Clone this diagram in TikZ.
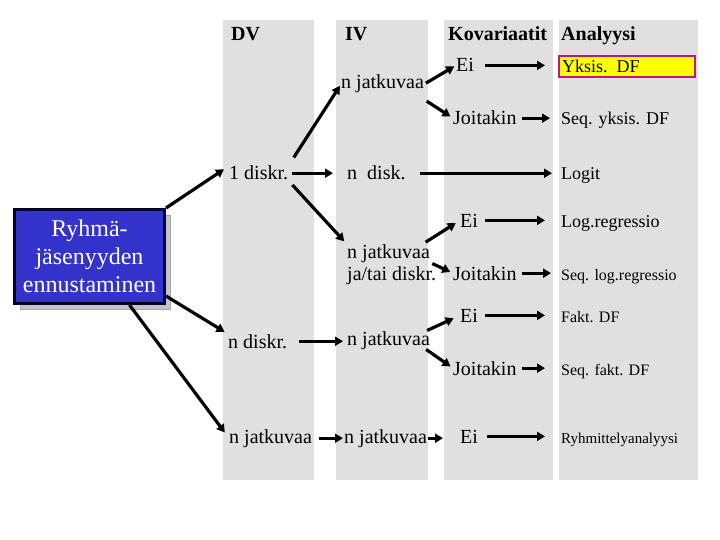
\documentclass[tikz,border=0pt]{standalone}
\usepackage{fontspec}
\setmainfont{Liberation Serif}
\usepackage{tikz}
\usepackage{xcolor}
\usetikzlibrary{arrows.meta,shadows}

\definecolor{colgray}{HTML}{E0E0E0}
\definecolor{grpblue}{HTML}{3333CC}
\definecolor{grpedge}{HTML}{000033}
\definecolor{grpshadow}{HTML}{C4C4C4}
\definecolor{hiyellow}{HTML}{FFFF00}
\definecolor{himagenta}{HTML}{C0187A}

\begin{document}
\begin{tikzpicture}[
    x=1pt, y=-1pt,
    txt/.style={inner sep=0pt, anchor=base west,
                font=\fontsize{20}{22}\selectfont},
    head/.style={txt, font=\fontsize{20}{22}\selectfont\bfseries},
    res/.style={txt, font=\fontsize{18}{20}\selectfont},
    ressmall/.style={txt, font=\fontsize{16}{18}\selectfont},
    column/.style={fill=colgray},
    group/.style={rectangle, draw=grpedge, line width=3pt,
                  fill=grpblue, text=white, align=center,
                  minimum width=150pt, minimum height=94pt,
                  font=\fontsize{24}{28}\selectfont,
                  drop shadow={shadow xshift=6pt, shadow yshift=-6pt,
                               fill=grpshadow, draw=gray!70,
                               line width=1pt, opacity=1}},
    link/.style={draw, line width=3.2pt,
                 -{Triangle[length=8pt, width=9pt]}},
]

\fill[white] (0,0) rectangle (720,540);
\useasboundingbox (0,0) rectangle (720,540);

\fill[column] (223,20) rectangle (314,480);
\fill[column] (336,20) rectangle (428,480);
\fill[column] (444,20) rectangle (553,480);
\fill[column] (559,20) rectangle (698,480);

\node [head] (hdv) at (231,41) {DV};
\node [head] (hiv) at (345,41) {IV};
\node [head] (hkov) at (448,41) {Kovariaatit};
\node [head] (hana) at (561,41) {Analyysi};

\node [group] (grp) at (89.5,256.5) {Ryhmä-\\jäsenyyden\\ennustaminen};

\node [txt] (dv1) at (229,180) {1 diskr.};
\node [txt] (dvn) at (228,348) {n diskr.};
\node [txt] (dvc) at (229,443) {n jatkuvaa};

\node [txt] (iv1) at (341,89) {n jatkuvaa};
\node [txt] (iv2) at (347,180) {n\ \ disk.};
\node [txt, anchor=north west, align=left] (iv3) at (347,244.3)
  {n jatkuvaa\\ja/tai diskr.};
\node [txt] (iv4) at (347,345) {n jatkuvaa};
\node [txt] (iv5) at (344,443) {n jatkuvaa};

\node [txt] (k1) at (456,72) {Ei};
\node [txt] (k2) at (453,125) {Joitakin};
\node [txt] (k3) at (460,227) {Ei};
\node [txt] (k4) at (453,280) {Joitakin};
\node [txt] (k5) at (460,322) {Ei};
\node [txt] (k6) at (453,375) {Joitakin};
\node [txt] (k7) at (460,443) {Ei};

\node [res, anchor=west, fill=hiyellow, draw=himagenta, line width=2pt,
       text width=130pt, align=left, inner sep=3pt,
       minimum height=21pt] (a1) at (558,66.5) {Yksis. DF};
\node [res] (a2) at (561,125) {Seq. yksis. DF};
\node [res] (a3) at (561,180) {Logit};
\node [res] (a4) at (561,227) {Log.regressio};
\node [ressmall] (a5) at (561,280) {Seq. log.regressio};
\node [ressmall] (a6) at (561,322) {Fakt. DF};
\node [ressmall] (a7) at (561,375) {Seq. fakt. DF};
\node [txt, font=\fontsize{15}{17}\selectfont] (a8) at (561,443)
  {Ryhmittelyanalyysi};

\draw [link, shorten >=6pt] (grp.north east) -- (dv1.north west);
\draw [link, shorten >=4pt] ([yshift=9pt]grp.south east) -- (dvn.north west);
\draw [link, shorten >=7pt] ([xshift=40pt]grp.south) -- (dvc.west);

\draw [link, shorten <=10pt, shorten >=2pt] (dv1.north east) -- (iv1.west);
\draw [link, shorten <=4pt, shorten >=14pt] (dv1.east) -- (dv1.east -| iv2.west);
\draw [link, shorten <=6pt, shorten >=4pt] (dv1.south east) -- (iv3.north west);

\draw [link, shorten <=2pt, shorten >=2pt] (iv1.east) -- (k1.west);
\draw [link, shorten <=3pt, shorten >=3pt] ([yshift=-6pt]iv1.south east) -- (k2.west);
\draw [link, shorten <=11pt, shorten >=13pt] (k1.east) -- (k1.east -| a1.west);
\draw [link, shorten <=5pt, shorten >=11pt] (k2.east) -- (k2.east -| a2.west);

\draw [link, shorten <=14pt, shorten >=9pt] (iv2.east) -- (iv2.east -| a3.west);

\draw [link, shorten <=4pt, shorten >=5pt] ([xshift=-14pt]iv3.north east) -- (k3.west);
\draw [link, shorten >=3pt] ([xshift=-4pt,yshift=1pt]iv3.east) -- (k4.west);
\draw [link, shorten <=7pt, shorten >=16pt] (k3.east) -- (k3.east -| a4.west);
\draw [link, shorten <=5pt, shorten >=10pt] (k4.east) -- (k4.east -| a5.west);

\draw [link, shorten <=12pt, shorten >=4pt] (dvn.east) -- (dvn.east -| iv4.west);
\draw [link, shorten <=1pt, shorten >=7pt] ([xshift=-4pt]iv4.north east) -- (k5.west);
\draw [link, shorten >=3pt] ([xshift=-4pt]iv4.south east) -- (k6.west);
\draw [link, shorten <=7pt, shorten >=16pt] (k5.east) -- (k5.east -| a6.west);
\draw [link, shorten <=5pt, shorten >=16pt] (k6.east) -- (k6.east -| a7.west);

\draw [link, shorten <=7pt, shorten >=1pt] (dvc.east) -- (dvc.east -| iv5.west);
\draw [link, shorten <=1pt, shorten >=17pt] (iv5.east) -- (iv5.east -| k7.west);
\draw [link, shorten <=9pt, shorten >=16pt] (k7.east) -- (k7.east -| a8.west);

\end{tikzpicture}
\end{document}
